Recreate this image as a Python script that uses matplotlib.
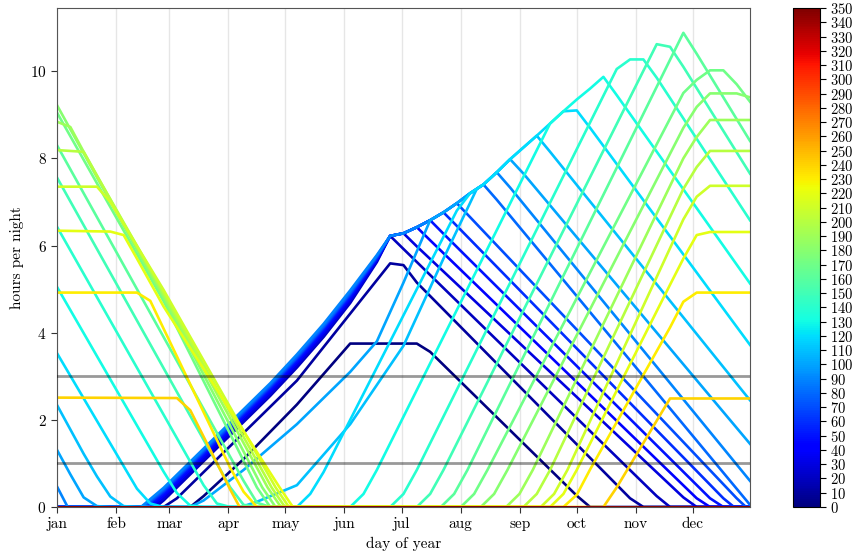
import matplotlib
matplotlib.use("Agg")
import matplotlib.pyplot as plt
import numpy as np
from matplotlib.colors import Normalize
from matplotlib.cm import ScalarMappable

plt.rcParams['font.family'] = ['cmr10', 'DejaVu Serif']
plt.rcParams['axes.formatter.use_mathtext'] = True
plt.rcParams['mathtext.fontset'] = 'cm'

# ---------------- data ----------------
month_labels = ['jan', 'feb', 'mar', 'apr', 'may', 'jun', 'jul', 'aug', 'sep', 'oct', 'nov', 'dec']
month_days = [0, 31, 59, 90, 120, 151, 181, 212, 243, 273, 304, 334]
cbar_ticks = list(range(0, 351, 10))

# each series: sample week (day = 7*week) and hours per night
w000 = [0, 10, 11, 14, 18, 22, 27, 28, 39, 40, 52]
h000 = [0, 0, 0.25, 1.1, 2.35, 3.75, 3.75, 3.56, 0.26, 0, 0]
w010 = [0, 8, 9, 18, 25, 26, 27, 43, 44, 52]
h010 = [0, 0, 0.2, 2.9, 5.59, 5.55, 5.15, 0.2, 0, 0]
w020 = [0, 7.4, 8, 10, 12, 14, 16, 18, 20, 22, 24, 25, 26, 45, 46, 52]
h020 = [0, 0, 0.15, 0.75, 1.35, 1.95, 2.55, 3.2, 3.9, 4.68, 5.62, 6.22, 5.92, 0.25, 0, 0]
w030 = [0, 7.2, 8, 10, 12, 14, 16, 18, 20, 22, 24, 25, 26, 27, 47, 48, 52]
h030 = [0, 0, 0.2, 0.8, 1.4, 2.0, 2.6, 3.25, 3.95, 4.73, 5.65, 6.22, 6.28, 5.98, 0.22, 0, 0]
w040 = [0, 7.0, 8, 10, 12, 14, 16, 18, 20, 22, 24, 25, 26, 27, 28, 48, 49, 52]
h040 = [0, 0, 0.26, 0.86, 1.46, 2.06, 2.66, 3.31, 4.01, 4.79, 5.68, 6.22, 6.28, 6.42, 6.12, 0.2, 0, 0]
w050 = [0, 6.8, 8, 10, 12, 14, 16, 18, 20, 22, 24, 25, 26, 27, 28, 29, 49, 50, 52]
h050 = [0, 0, 0.31, 0.91, 1.51, 2.11, 2.71, 3.36, 4.06, 4.83, 5.7, 6.22, 6.28, 6.42, 6.58, 6.27, 0.2, 0, 0]
w060 = [0, 6.6, 8, 10, 12, 14, 16, 18, 20, 22, 24, 25, 26, 27, 28, 29, 30, 50, 50.8, 52]
h060 = [0, 0, 0.35, 0.95, 1.55, 2.15, 2.75, 3.4, 4.1, 4.87, 5.72, 6.22, 6.28, 6.42, 6.58, 6.76, 6.45, 0.2, 0, 0]
w070 = [0, 6.5, 8, 10, 12, 14, 16, 18, 20, 22, 24, 25, 26, 27, 28, 29, 30, 31, 51, 51.7, 52]
h070 = [0, 0, 0.38, 0.98, 1.58, 2.18, 2.78, 3.43, 4.13, 4.9, 5.74, 6.22, 6.28, 6.42, 6.58, 6.76, 6.97, 6.65, 0.2, 0, 0]
w080 = [0, 6.4, 8, 10, 12, 14, 16, 18, 20, 22, 24, 25, 26, 27, 28, 29, 30, 31, 32, 33, 52]
h080 = [0, 0, 0.41, 1.01, 1.61, 2.21, 2.81, 3.46, 4.16, 4.93, 5.76, 6.22, 6.28, 6.42, 6.58, 6.76, 6.97, 7.2, 7.4, 7.05, 0.05]
w090 = [0, 0.8, 6.3, 8, 10, 12, 14, 16, 18, 20, 22, 24, 25, 26, 27, 28, 29, 30, 31, 32, 33, 34, 52]
h090 = [0.47, 0, 0, 0.44, 1.04, 1.64, 2.24, 2.84, 3.5, 4.2, 4.97, 5.78, 6.22, 6.28, 6.42, 6.58, 6.76, 6.97, 7.2, 7.4, 7.68, 7.33, 0.6]
w100 = [0, 1, 2, 3, 4, 10, 11, 14, 18, 22, 24, 26, 28, 29, 30, 31, 32, 33, 34, 35, 52]
h100 = [1.31, 0.75, 0.22, 0.02, 0, 0, 0.15, 0.85, 1.9, 3.1, 3.8, 5.15, 6.58, 6.76, 6.97, 7.2, 7.4, 7.68, 7.98, 7.65, 1.45]
w110 = [0, 1, 2, 3, 4, 5, 6, 13.8, 15, 18, 22, 26, 29, 31.5, 32, 33, 34, 35, 36, 37, 52]
h110 = [2.34, 1.78, 1.22, 0.7, 0.24, 0.02, 0, 0, 0.12, 0.5, 1.9, 3.7, 5.7, 7.3, 7.4, 7.68, 7.98, 8.25, 8.52, 8.15, 2.45]
w120 = [0, 6, 7, 8, 18, 19, 20, 24, 28, 30, 31, 32, 33, 34, 35, 36, 37, 38, 39, 40, 52]
h120 = [3.53, 0.42, 0.08, 0, 0, 0.3, 0.8, 3.2, 5.6, 6.8, 7.2, 7.4, 7.68, 7.98, 8.25, 8.52, 8.8, 9.08, 9.1, 8.7, 3.72]
w130 = [0, 8, 9, 10, 11, 22, 23, 24, 37, 38, 39, 40, 41, 42, 52]
h130 = [5.05, 0.81, 0.32, 0.03, 0, 0, 0.3, 0.85, 8.8, 9.08, 9.35, 9.6, 9.87, 9.45, 5.13]
w140 = [0, 11, 12, 13, 25, 26, 27, 42, 43, 44, 45, 52]
h140 = [6.43, 0.5, 0.08, 0, 0, 0.3, 0.85, 10.05, 10.27, 10.27, 9.85, 6.58]
w150 = [0, 13, 14, 15, 27, 28, 29, 45, 46, 47, 52]
h150 = [7.56, 0.45, 0.05, 0, 0, 0.3, 0.85, 10.62, 10.56, 10.1, 7.65]
w160 = [0, 14, 15, 16, 28.8, 29.8, 30.8, 47, 48, 52]
h160 = [8.30, 0.6, 0.1, 0, 0, 0.3, 0.85, 10.88, 10.4, 8.4]
w170 = [0, 8, 15, 16, 30.3, 31.3, 32.3, 47, 48, 49, 50, 51, 52]
h170 = [9.05, 4.72, 0.45, 0, 0, 0.3, 0.85, 9.5, 9.8, 10.02, 10.02, 9.7, 9.3]
w180 = [0, 8, 15.4, 16.4, 31.8, 32.8, 33.8, 47, 48, 49, 51, 52]
h180 = [9.22, 4.8, 0.45, 0, 0, 0.3, 0.85, 8.7, 9.18, 9.49, 9.49, 9.4]
w190 = [0, 1, 2, 8, 15.8, 16.8, 33.7, 34.7, 35.7, 47, 48, 49, 52]
h190 = [8.84, 8.72, 8.15, 4.86, 0.45, 0, 0, 0.3, 0.85, 8.0, 8.49, 8.88, 8.88]
w200 = [0, 2, 3, 8, 16.1, 17.1, 35, 36, 37, 47, 48, 49, 52]
h200 = [8.19, 8.15, 7.6, 4.92, 0.45, 0, 0, 0.3, 0.85, 7.3, 7.8, 8.17, 8.17]
w210 = [0, 3, 4, 8, 16.4, 17.4, 36.3, 37.3, 38.3, 47, 48, 49, 52]
h210 = [7.35, 7.35, 7.0, 4.98, 0.45, 0, 0, 0.3, 0.85, 6.6, 7.12, 7.37, 7.37]
w220 = [0, 4, 5, 6, 8, 16.7, 17.7, 37, 38, 39, 46, 47, 48, 49, 52]
h220 = [6.34, 6.32, 6.24, 5.7, 4.6, 0.45, 0, 0, 0.3, 0.85, 5.1, 5.7, 6.24, 6.31, 6.31]
w230 = [0, 6, 7, 13, 14, 15, 38, 39, 40, 46, 47, 48, 52]
h230 = [4.92, 4.92, 4.73, 0.9, 0.35, 0, 0, 0.28, 0.86, 4.12, 4.71, 4.92, 4.92]
w240 = [0, 9, 10, 13, 13.7, 41, 42, 46, 52]
h240 = [2.51, 2.50, 2.22, 0.4, 0, 0, 0.45, 2.49, 2.49]
w_zero = [0, 52]
h_zero = [0, 0]

series = {
    0: (w000, h000), 10: (w010, h010), 20: (w020, h020), 30: (w030, h030),
    40: (w040, h040), 50: (w050, h050), 60: (w060, h060), 70: (w070, h070),
    80: (w080, h080), 90: (w090, h090), 100: (w100, h100), 110: (w110, h110),
    120: (w120, h120), 130: (w130, h130), 140: (w140, h140), 150: (w150, h150),
    160: (w160, h160), 170: (w170, h170), 180: (w180, h180), 190: (w190, h190),
    200: (w200, h200), 210: (w210, h210), 220: (w220, h220), 230: (w230, h230),
    240: (w240, h240),
}
for v in range(250, 360, 10):
    series[v] = (w_zero, h_zero)

# ---------------- plot ----------------
W, H = 854, 557
fig = plt.figure(figsize=(W / 100, H / 100), dpi=100)
ax = fig.add_axes([57 / W, 1 - 507 / H, (750 - 57) / W, (507 - 8) / H])

cmap = plt.get_cmap('jet')
norm = Normalize(vmin=0, vmax=350)

for d in month_days:
    ax.axvline(d, color='#e6e6e6', lw=1.0, zorder=0)

for v in sorted(series):
    wk, hr = series[v]
    ax.plot(np.array(wk) * 7.0, hr, color=cmap(norm(v)), lw=1.9, zorder=2)

for y in (1, 3):
    ax.axhline(y, color='k', alpha=0.4, lw=2.0, zorder=3)

ax.set_xlim(0, 364)
ax.set_ylim(0, 11.45)
ax.set_xticks(month_days)
ax.set_xticklabels(month_labels)
ax.set_yticks([0, 2, 4, 6, 8, 10])
ax.tick_params(labelsize=11, length=4, color='#333333')
ax.set_xlabel('day of year', fontsize=11)
ax.set_ylabel('hours per night', fontsize=11)
for s in ax.spines.values():
    s.set_color('#555555')

cax = fig.add_axes([793 / W, 1 - 507 / H, 27 / W, (507 - 8) / H])
sm = ScalarMappable(norm=norm, cmap=cmap)
cb = fig.colorbar(sm, cax=cax, ticks=cbar_ticks)
cb.ax.tick_params(labelsize=10.5, length=4)
cb.outline.set_linewidth(0.8)

fig.savefig('out.png', dpi=100)
